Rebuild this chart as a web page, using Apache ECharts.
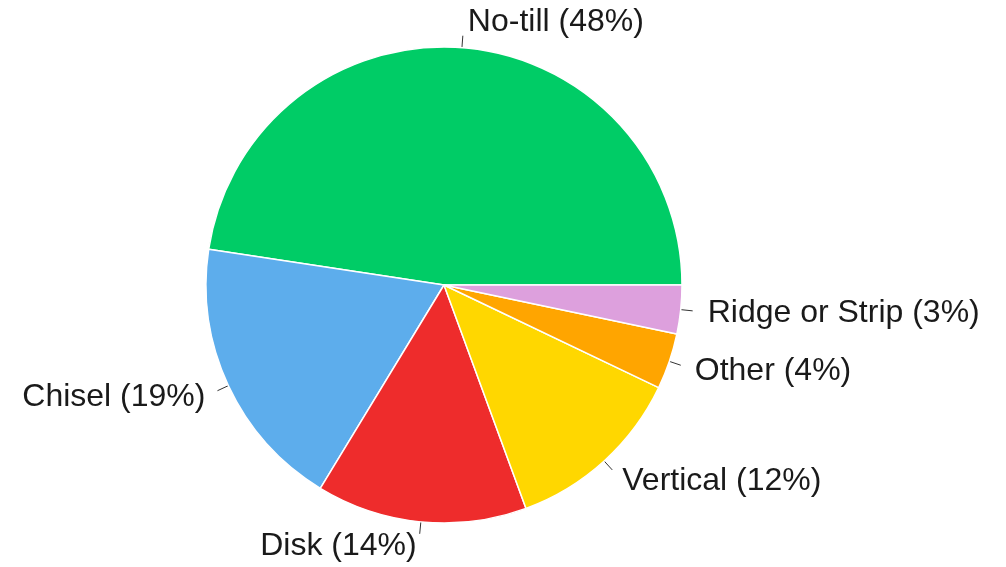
<!DOCTYPE html>
<html>
<head>
<meta charset="utf-8">
<script src="https://cdn.jsdelivr.net/npm/echarts@6/dist/echarts.min.js"></script>
<style>html,body{margin:0;padding:0;background:#fff;}#c{width:1006px;height:567px;}</style>
</head>
<body>
<div id="c"></div>
<script>
const categories = ["No-till", "Chisel", "Disk", "Vertical", "Other", "Ridge or Strip"];
const shares = [47.6, 18.7, 14.3, 12.3, 3.8, 3.3];
const colors = ["#00CC66", "#5DADEC", "#EE2C2C", "#FFD700", "#FFA500", "#DDA0DD"];

// per-label placement tweaks (text offset relative to the label-line end)
const labelShiftY = [-14, 6, 12, 11, 6, 2];
const labelGap = [5, 12, 3, 10, 14, 15];

const chart = echarts.init(document.getElementById('c'));
chart.setOption({
  animation: false,
  backgroundColor: '#ffffff',
  series: [{
    type: 'pie',
    center: [444, 285],
    radius: 238,
    startAngle: 0,
    clockwise: false,
    avoidLabelOverlap: false,
    percentPrecision: 0,
    itemStyle: { borderColor: '#ffffff', borderWidth: 1.5 },
    label: {
      show: true,
      position: 'outside',
      formatter: '{b} ({d}%)',
      fontFamily: 'Liberation Sans, Arial, sans-serif',
      fontSize: 32,
      color: '#1a1a1a',
      distanceToLabelLine: 10
    },
    labelLine: {
      show: true,
      length: 12,
      length2: 0,
      lineStyle: { color: '#333333', width: 1 }
    },
    labelLayout: function (params) {
      return { dy: labelShiftY[params.dataIndex] };
    },
    data: categories.map((c, i) => ({
      name: c,
      value: shares[i],
      itemStyle: { color: colors[i] },
      label: { distanceToLabelLine: labelGap[i] }
    }))
  }]
});
</script>
</body>
</html>
